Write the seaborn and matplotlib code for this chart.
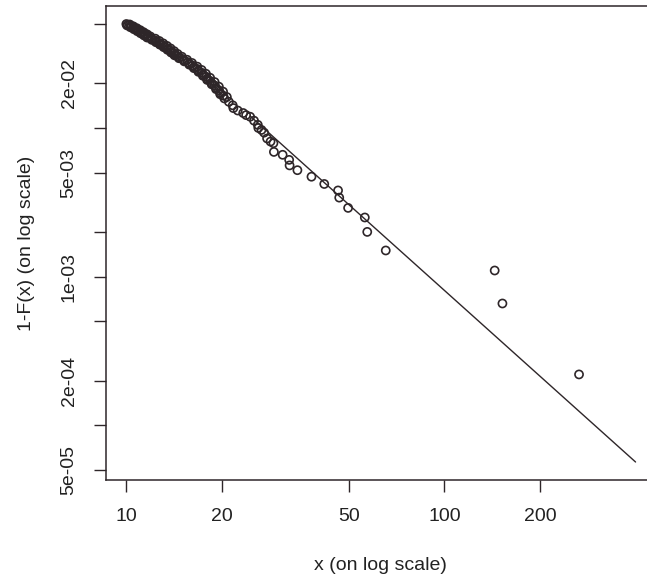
import matplotlib
matplotlib.use("Agg")
import matplotlib.pyplot as plt
import numpy as np
import pandas as pd
import seaborn as sns
from matplotlib.ticker import FixedLocator, FixedFormatter, NullLocator

# ---- data read from the reference (empirical survival function, log-log) ----
# dense head of the sample (x between 10 and ~20)
x_head = [10.00, 10.12, 10.30, 10.38, 10.57, 10.66, 10.84, 10.93, 11.12, 11.19, 11.40, 11.46, 11.67, 11.73, 11.93,
          12.05, 12.30, 12.41, 12.66, 12.77, 13.02, 13.12, 13.38, 13.48, 13.74, 13.85, 14.10, 14.20, 14.44,
          14.65, 15.02, 15.22, 15.60, 15.78, 16.15,
          16.35, 16.72, 16.88, 17.27, 17.43, 17.82, 17.96, 18.35,
          18.55, 18.96, 19.14, 19.55, 19.72, 20.15, 20.33,
          10.25, 10.05, 10.52, 10.30, 10.79, 10.56, 11.06, 10.82, 11.33, 11.08, 11.62, 11.35, 11.90, 11.62,
          12.34, 12.02, 12.70, 12.38, 13.06, 12.74, 13.42, 13.10, 13.78, 13.46, 14.14, 13.82, 14.50, 14.17,
          14.95, 14.63, 15.52, 15.20, 16.09, 15.77,
          16.71, 16.30, 17.25, 16.85, 17.79, 17.40, 18.34, 17.94,
          18.95, 18.55, 19.54, 19.14, 20.14, 19.73, 20.70]
y_head = [0.0500, 0.0493, 0.0486, 0.0479, 0.0472, 0.0465, 0.0458, 0.0451, 0.0444, 0.0437, 0.0430, 0.0423, 0.0416, 0.0409, 0.0402,
          0.0395, 0.0388, 0.0381, 0.0374, 0.0367, 0.0360, 0.0353, 0.0346, 0.0339, 0.0332, 0.0325, 0.0318, 0.0311, 0.0305,
          0.0298, 0.0291, 0.0284, 0.0277, 0.0270, 0.0263,
          0.0256, 0.0249, 0.0242, 0.0235, 0.0228, 0.0221, 0.0214, 0.0207,
          0.0200, 0.0193, 0.0186, 0.0179, 0.0172, 0.0165, 0.0158,
          0.04965, 0.04895, 0.04825, 0.04755, 0.04685, 0.04615, 0.04545, 0.04475, 0.04405, 0.04335, 0.04265, 0.04195, 0.04125, 0.04055,
          0.03985, 0.03915, 0.03845, 0.03775, 0.03705, 0.03635, 0.03565, 0.03495, 0.03425, 0.03355, 0.03285, 0.03215, 0.03145, 0.03080,
          0.03015, 0.02945, 0.02875, 0.02805, 0.02735, 0.02665,
          0.02585, 0.02525, 0.02455, 0.02385, 0.02315, 0.02245, 0.02175, 0.02105,
          0.02035, 0.01965, 0.01895, 0.01825, 0.01755, 0.01685, 0.01615]
# sparser tail
x_tail = [21.0, 21.6, 21.7, 22.4, 23.3, 23.8, 24.5, 25.2, 25.9, 26.0, 26.6, 27.1, 27.7, 28.4, 29.0,
          29.1, 31.0, 32.5, 32.6, 34.5, 38.2, 41.9, 46.3, 46.7, 49.8, 56.2, 57.2, 65.4,
          143.9, 152.2, 265.0]
y_tail = [0.0150, 0.0142, 0.0136, 0.0131, 0.0126, 0.0122, 0.0119, 0.0112, 0.0105, 0.0100, 0.0097, 0.0093, 0.0085, 0.0081, 0.0079,
          0.0069, 0.0066, 0.0061, 0.0056, 0.0052, 0.0047, 0.0042, 0.0038, 0.0034, 0.0029, 0.0025, 0.0020, 0.0015,
          0.0011, 0.00066, 0.00022]

# fitted power-law line (end points)
fit_x = [24.5, 399.0]
fit_y = [0.01203, 5.67e-5]

x_ticks = [10, 20, 50, 100, 200]
x_tick_labels = ["10", "20", "50", "100", "200"]
y_ticks = [5e-2, 2e-2, 1e-2, 5e-3, 2e-3, 1e-3, 5e-4, 2e-4, 1e-4, 5e-5]
y_tick_labels = ["", "2e-02", "", "5e-03", "", "1e-03", "", "2e-04", "", "5e-05"]

x_label = "x (on log scale)"
y_label = "1-F(x) (on log scale)"

# ---- plot ----
sns.set_style("ticks")
plt.rcParams["font.family"] = ["Liberation Sans", "DejaVu Sans"]

W, H = 647, 582
fig = plt.figure(figsize=(W / 100, H / 100), dpi=100)
fig.patch.set_facecolor("white")
ax = fig.add_axes([106 / W, (H - 480) / H, 548 / W, 474 / H])

ink = "#2e2629"
df = pd.DataFrame({"x": x_head + x_tail, "y": y_head + y_tail})
sns.scatterplot(data=df, x="x", y="y", ax=ax, marker="o", s=34,
                facecolor="none", edgecolor=ink, linewidth=1.2, zorder=3)
sns.lineplot(x=fit_x, y=fit_y, ax=ax, color=ink, linewidth=1.0,
             estimator=None, sort=False, zorder=2)

ax.set_xscale("log")
ax.set_yscale("log")
ax.set_xlim(8.63, 456)
ax.set_ylim(4.29e-5, 0.0661)

ax.xaxis.set_major_locator(FixedLocator(x_ticks))
ax.xaxis.set_major_formatter(FixedFormatter(x_tick_labels))
ax.xaxis.set_minor_locator(NullLocator())
ax.yaxis.set_major_locator(FixedLocator(y_ticks))
ax.yaxis.set_major_formatter(FixedFormatter(y_tick_labels))
ax.yaxis.set_minor_locator(NullLocator())

ax.tick_params(axis="both", direction="out", length=8.5, width=1.0, color=ink,
               labelsize=14, labelcolor="#222222", pad=12)
ax.tick_params(axis="y", labelrotation=90)
for lab in ax.get_yticklabels():
    lab.set_va("center")

for sp in ax.spines.values():
    sp.set_color(ink)
    sp.set_linewidth(1.1)

ax.set_xlabel(x_label, fontsize=14, color="#222222", va="center")
ax.set_ylabel(y_label, fontsize=14, color="#222222", va="center")
ax.xaxis.set_label_coords(0.5, (480 - 565) / 474)
ax.yaxis.set_label_coords((27 - 106) / 548, 0.5)

fig.savefig("out.png", dpi=100, facecolor="white")
